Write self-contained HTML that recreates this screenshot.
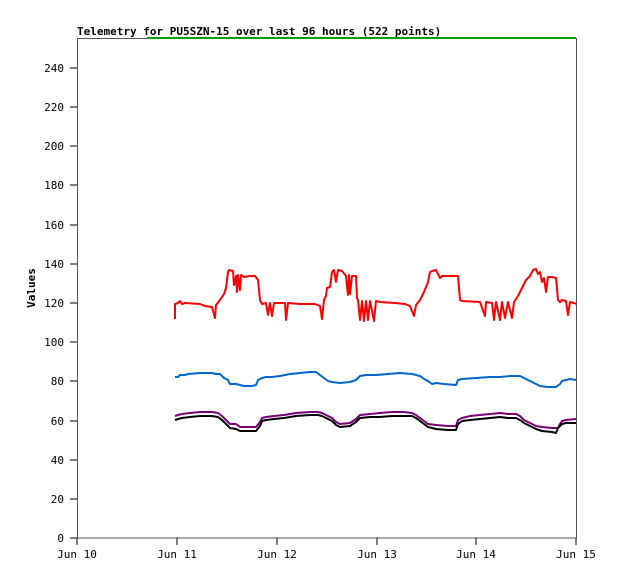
<!DOCTYPE html>
<html><head><style>
body{margin:0;background:#fff;}
svg{display:block;font-family:"DejaVu Sans Mono","Liberation Mono",monospace;}
</style></head><body>
<svg width="618" height="579" viewBox="0 0 618 579" xmlns="http://www.w3.org/2000/svg">
<rect width="618" height="579" fill="#fff"/>
<text x="77" y="35" font-size="11" font-weight="bold" fill="#000">Telemetry for PU5SZN-15 over last 96 hours (522 points)</text>
<rect x="77.5" y="38.5" width="499" height="499.5" fill="none" stroke="#555" stroke-width="1"/>
<line x1="147" y1="38" x2="576" y2="38" stroke="#00a000" stroke-width="2"/>
<g font-size="11" fill="#000" text-anchor="end">
<text x="64" y="542">0</text><text x="64" y="503">20</text><text x="64" y="464">40</text>
<text x="64" y="425">60</text><text x="64" y="385">80</text><text x="64" y="346">100</text>
<text x="64" y="307">120</text><text x="64" y="268">140</text><text x="64" y="229">160</text>
<text x="64" y="189">180</text><text x="64" y="150">200</text><text x="64" y="111">220</text>
<text x="64" y="72">240</text>
</g>
<g stroke="#000" stroke-width="1">
<line x1="70" y1="538" x2="77" y2="538"/><line x1="70" y1="499" x2="77" y2="499"/><line x1="70" y1="460" x2="77" y2="460"/>
<line x1="70" y1="421" x2="77" y2="421"/><line x1="70" y1="381" x2="77" y2="381"/><line x1="70" y1="342" x2="77" y2="342"/>
<line x1="70" y1="303" x2="77" y2="303"/><line x1="70" y1="264" x2="77" y2="264"/><line x1="70" y1="225" x2="77" y2="225"/>
<line x1="70" y1="185" x2="77" y2="185"/><line x1="70" y1="146" x2="77" y2="146"/><line x1="70" y1="107" x2="77" y2="107"/>
<line x1="70" y1="68" x2="77" y2="68"/>
<line x1="77" y1="538" x2="77" y2="545"/><line x1="177" y1="538" x2="177" y2="545"/><line x1="277" y1="538" x2="277" y2="545"/>
<line x1="377" y1="538" x2="377" y2="545"/><line x1="476" y1="538" x2="476" y2="545"/><line x1="576" y1="538" x2="576" y2="545"/>
</g>
<g font-size="11" fill="#000" text-anchor="middle">
<text x="77" y="558">Jun 10</text><text x="177" y="558">Jun 11</text><text x="277" y="558">Jun 12</text>
<text x="377" y="558">Jun 13</text><text x="476" y="558">Jun 14</text><text x="576" y="558">Jun 15</text>
</g>
<text transform="translate(35,288) rotate(-90)" font-size="11" font-weight="bold" text-anchor="middle">Values</text>
<g fill="none" stroke-width="2" stroke-linejoin="round">
<polyline stroke="#ff0000" points="175,319 175,304 178,303 180,301 182,304 185,303 200,304 205,306 212,307 215,318 216,305 220,300 224,294 226,288 228,272 229,270 233,271 234,285 236,276 237,292 238,275 240,290 241,275 244,277 250,276 255,276 258,280 260,300 262,304 266,303 268,315 270,303 272,316 274,303 285,303 286,320 288,303 300,304 315,304 320,306 322,319 324,300 326,296 327,288 330,287 332,272 334,270 336,282 338,270 342,271 346,276 348,295 349,275 350,294 352,276 356,276 357,298 358,300 360,320 362,301 364,321 366,301 368,320 370,301 374,321 376,301 380,302 395,303 405,304 410,306 414,316 416,305 420,300 424,292 428,282 430,272 432,271 436,270 438,274 440,278 442,276 458,276 460,300 462,301 480,302 485,316 486,302 492,303 494,320 496,302 500,320 502,302 505,318 508,302 512,318 514,302 518,296 522,288 526,280 530,276 533,270 536,269 538,274 540,272 542,282 544,278 546,292 548,277 552,277 556,278 558,300 560,302 562,300 566,301 568,315 570,302 574,303 576,304"/>
<polyline stroke="#0066cc" points="175,377 178,377 180,375 185,375 188,374 200,373 212,373 216,374 220,374 224,378 228,380 230,384 236,384 240,385 244,386 252,386 256,385 258,380 262,378 266,377 272,377 280,376 290,374 300,373 310,372 316,372 320,375 324,378 328,381 332,382 340,383 350,382 356,380 360,376 366,375 376,375 388,374 400,373 412,374 420,376 424,379 428,381 432,384 436,383 444,384 456,385 458,380 462,379 476,378 490,377 500,377 510,376 520,376 526,379 530,381 536,384 540,386 548,387 556,387 560,384 562,381 566,380 570,379 576,380"/>
<polyline stroke="#770077" points="175,416 178,415 182,414 190,413 200,412 212,412 218,413 222,416 226,420 230,424 236,424 240,427 250,427 256,427 260,422 262,418 266,417 274,416 284,415 296,413 310,412 318,412 322,413 326,415 332,418 336,422 340,424 350,423 356,419 360,415 370,414 380,413 392,412 404,412 412,413 416,415 420,418 424,421 428,424 436,425 448,426 456,426 458,420 462,418 470,416 480,415 490,414 500,413 508,414 516,414 520,416 524,420 530,423 536,426 542,427 552,428 558,428 560,424 562,421 566,420 576,419"/>
<polyline stroke="#000000" points="175,420 178,419 182,418 190,417 200,416 212,416 218,417 222,420 226,424 230,428 236,429 240,431 250,431 256,431 260,426 262,421 266,420 274,419 284,418 296,416 310,415 318,415 322,416 326,418 332,421 336,425 340,427 350,426 356,422 360,418 370,417 380,417 392,416 404,416 412,416 416,418 420,421 424,424 428,427 436,429 448,430 456,430 458,424 462,421 470,420 480,419 490,418 500,417 508,418 516,418 520,420 524,423 530,426 536,429 542,431 552,432 556,433 558,428 562,424 566,423 576,423"/>
</g>
</svg>
</body></html>
